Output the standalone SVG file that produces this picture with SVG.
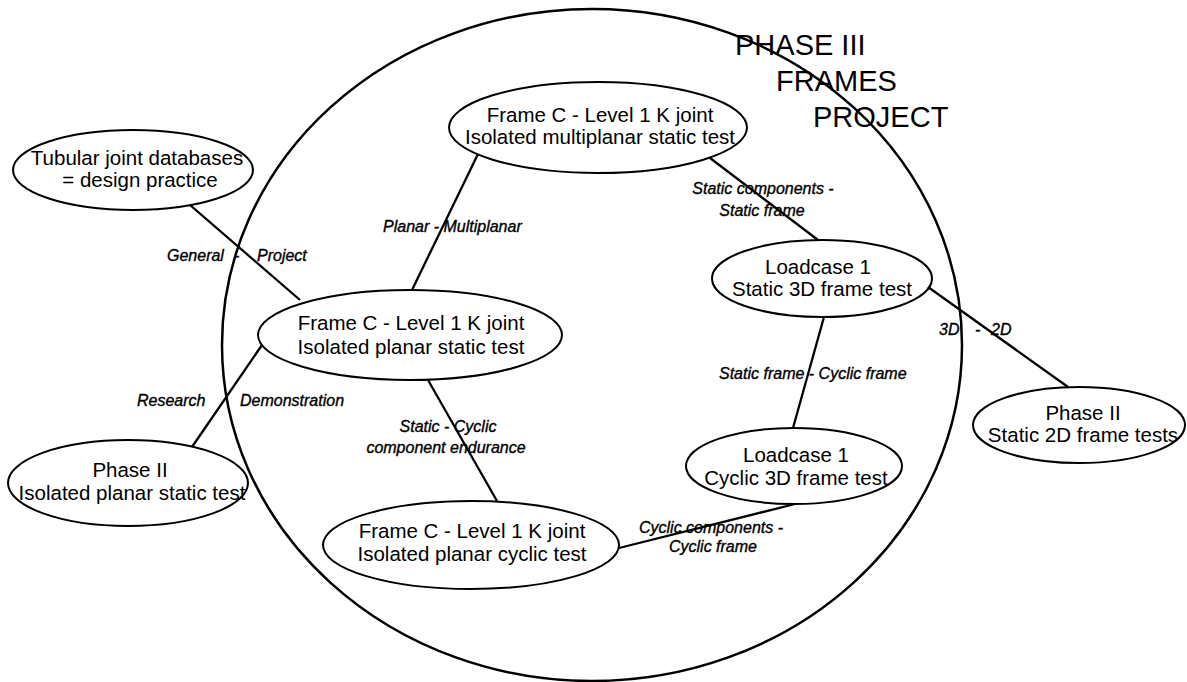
<svg xmlns="http://www.w3.org/2000/svg" width="1187" height="682" viewBox="0 0 1187 682">
  <style>
    .node { fill: none; stroke: #000; stroke-width: 2; }
    .boundary { fill: none; stroke: #000; stroke-width: 2.5; }
    .edge { stroke: #000; stroke-width: 2.3; fill: none; }
    .nt { font-family: "Liberation Sans", Arial, sans-serif; font-size: 20.5px; fill: #000; text-anchor: middle; }
    .lbl { font-family: "Liberation Sans", Arial, sans-serif; font-size: 16px; font-style: italic; fill: #000; stroke: #000; stroke-width: 0.35; }
    .title { font-family: "Liberation Sans", Arial, sans-serif; font-size: 29px; fill: #000; }
  </style>
  <rect width="1187" height="682" fill="#fff"/>

  <!-- project boundary -->
  <ellipse id="project-boundary" class="boundary" cx="592" cy="345" rx="370" ry="336"/>

  <g id="title">
    <text class="title" x="735" y="55">PHASE III</text>
    <text class="title" x="776" y="91">FRAMES</text>
    <text class="title" x="813" y="127">PROJECT</text>
  </g>

  <g id="connectors">
    <line class="edge" x1="190" y1="205" x2="300" y2="300"/>
    <line class="edge" x1="262" y1="345" x2="192" y2="447"/>
    <line class="edge" x1="478" y1="154" x2="412" y2="290"/>
    <line class="edge" x1="428" y1="380" x2="497" y2="501"/>
    <line class="edge" x1="710" y1="158" x2="818" y2="240"/>
    <line class="edge" x1="824" y1="317" x2="793" y2="428"/>
    <line class="edge" x1="928" y1="287" x2="1068" y2="387"/>
    <line class="edge" x1="795" y1="504" x2="619" y2="548"/>

    <text class="lbl" x="167" y="261">General</text>
    <text class="lbl" x="234" y="261">-</text>
    <text class="lbl" x="257" y="261">Project</text>

    <text class="lbl" x="137" y="406">Research</text>
    <text class="lbl" x="240" y="406">Demonstration</text>

    <text class="lbl" x="383" y="232">Planar - Multiplanar</text>

    <text class="lbl" x="763" y="194" text-anchor="middle">Static components -</text>
    <text class="lbl" x="762" y="216" text-anchor="middle">Static frame</text>

    <text class="lbl" x="448" y="432" text-anchor="middle">Static - Cyclic</text>
    <text class="lbl" x="446" y="453" text-anchor="middle">component endurance</text>

    <text class="lbl" x="719" y="379">Static frame - Cyclic frame</text>

    <text class="lbl" x="939" y="335">3D</text>
    <text class="lbl" x="975" y="335">-</text>
    <text class="lbl" x="991" y="335">2D</text>

    <text class="lbl" x="711" y="533" text-anchor="middle">Cyclic components -</text>
    <text class="lbl" x="713" y="552" text-anchor="middle">Cyclic frame</text>
  </g>

  <g id="tubular-databases">
    <ellipse class="node" cx="133" cy="170" rx="120" ry="40"/>
    <text class="nt" x="137" y="165">Tubular joint databases</text>
    <text class="nt" x="140" y="187">= design practice</text>
  </g>

  <g id="frame-c-multiplanar-static">
    <ellipse class="node" cx="598" cy="127.5" rx="149" ry="45.5"/>
    <text class="nt" x="600" y="122">Frame C - Level 1 K joint</text>
    <text class="nt" x="600" y="144">Isolated multiplanar static test</text>
  </g>

  <g id="frame-c-planar-static">
    <ellipse class="node" cx="410" cy="335" rx="152" ry="45"/>
    <text class="nt" x="411" y="330">Frame C - Level 1 K joint</text>
    <text class="nt" x="411" y="354">Isolated planar static test</text>
  </g>

  <g id="loadcase-static">
    <ellipse class="node" cx="822" cy="278.5" rx="110" ry="38.5"/>
    <text class="nt" x="818" y="274">Loadcase 1</text>
    <text class="nt" x="822" y="296">Static 3D frame test</text>
  </g>

  <g id="loadcase-cyclic">
    <ellipse class="node" cx="794" cy="466" rx="108" ry="38"/>
    <text class="nt" x="796" y="462">Loadcase 1</text>
    <text class="nt" x="796" y="485">Cyclic 3D frame test</text>
  </g>

  <g id="phase-ii-2d-frames">
    <ellipse class="node" cx="1079" cy="425" rx="106" ry="38"/>
    <text class="nt" x="1083" y="420">Phase II</text>
    <text class="nt" x="1083" y="442">Static 2D frame tests</text>
  </g>

  <g id="phase-ii-planar-static">
    <ellipse class="node" cx="128" cy="483" rx="120" ry="43"/>
    <text class="nt" x="130" y="477">Phase II</text>
    <text class="nt" x="132" y="500">Isolated planar static test</text>
  </g>

  <g id="frame-c-planar-cyclic">
    <ellipse class="node" cx="471" cy="545" rx="148" ry="44"/>
    <text class="nt" x="472" y="538">Frame C - Level 1 K joint</text>
    <text class="nt" x="472" y="561">Isolated planar cyclic test</text>
  </g>
</svg>
